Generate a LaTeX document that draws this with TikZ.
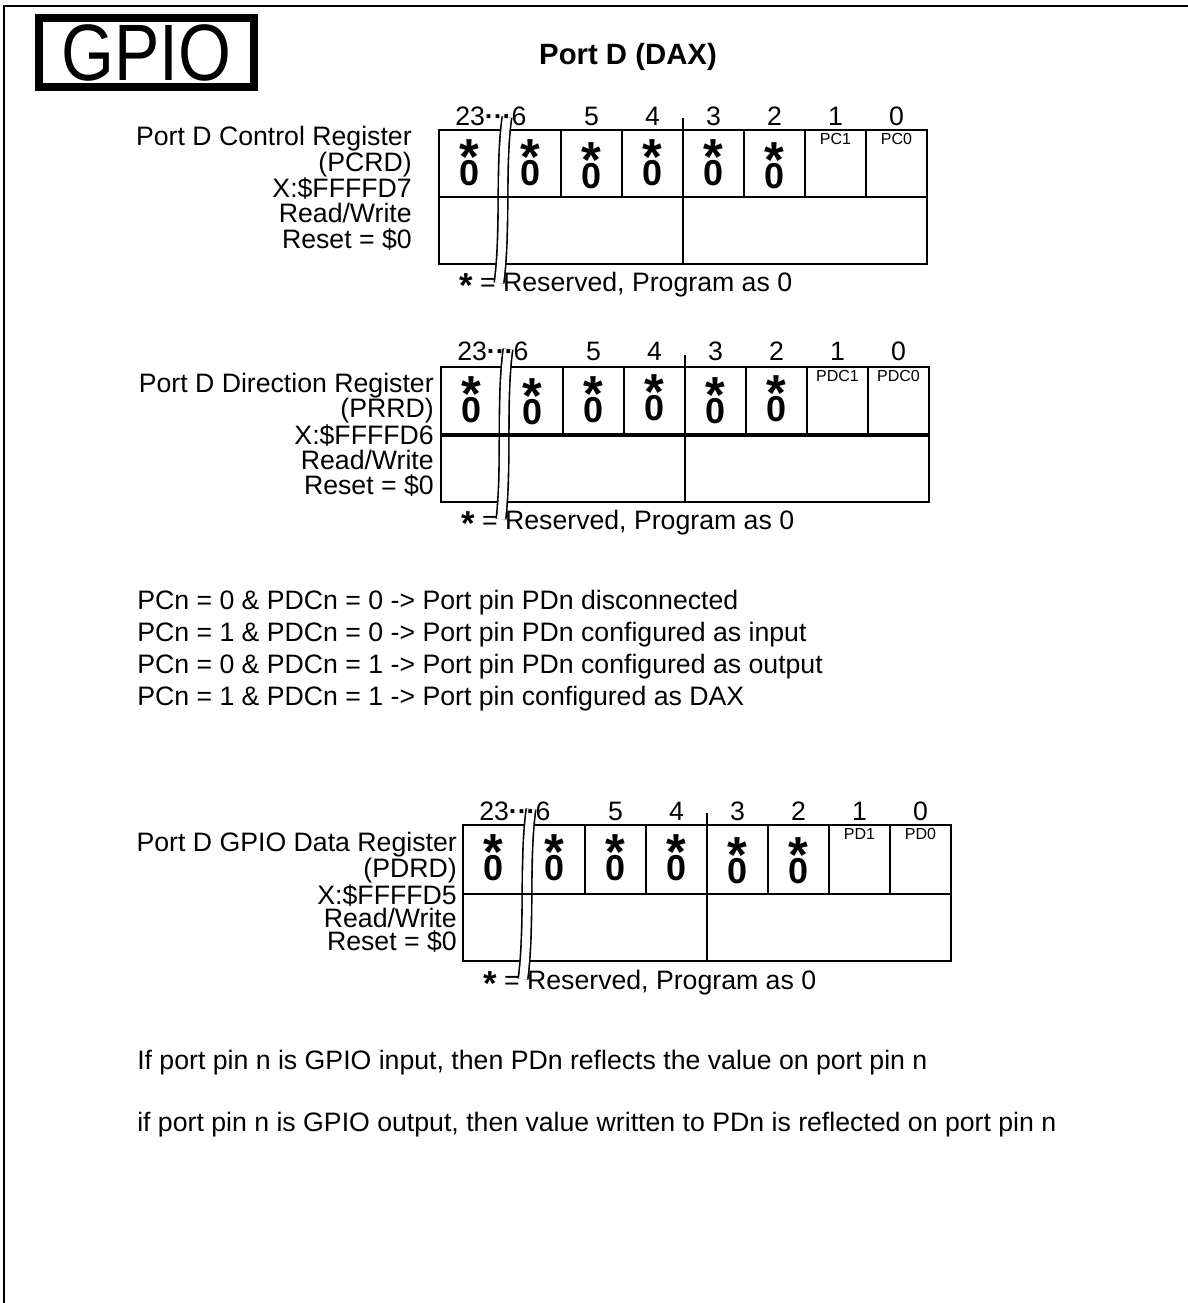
\documentclass[tikz,border=0pt]{standalone}
\usepackage{fontspec}
\setmainfont{Liberation Sans}
\usepackage{graphicx}
\usetikzlibrary{positioning}
\tikzset{
  frame/.style={line width=1.6pt},
  titlebox/.style={draw,line width=6pt,minimum width=161pt,minimum height=52pt,
                   inner sep=0pt,font=\fontsize{60}{60}\selectfont},
  heading/.style={font=\fontsize{22}{26}\selectfont\bfseries,inner sep=0pt},
  regline/.style={line width=1.5pt},
  midthick/.style={line width=3pt},
  brk/.style={line width=1.2pt,double=white,double distance=6pt},
  bitnum/.style={font=\fontsize{20}{24}\selectfont,inner sep=0pt},
  cellv/.style={font=\fontsize{27}{30}\selectfont\bfseries,anchor=base,inner sep=0pt},
  fld/.style={font=\fontsize{12}{14}\selectfont,inner sep=0pt},
  reglbl/.style={font=\fontsize{20}{#1}\selectfont,align=right,anchor=north east,inner sep=0pt},
  resv/.style={font=\fontsize{20}{24}\selectfont,anchor=base west,inner sep=0pt},
  txtline/.style={font=\fontsize{20}{24}\selectfont,anchor=base west,inner sep=0pt},
}
% reserved bit: star over zero
\newcommand{\starzero}{\ooalign{\hfil\raisebox{8.25pt}{\fontsize{38}{38}\selectfont *}\hfil\cr\hfil 0\hfil\cr}}
\newcommand{\resast}{\raisebox{-0.22em}{\fontsize{26}{26}\selectfont\bfseries *}}
\newcommand{\bitdots}{23{\bfseries···}6}
\begin{document}
\begin{tikzpicture}[x=0.75pt,y=-0.75pt]
  \useasboundingbox (0,0) rectangle (1188,1303);

  % page frame
  \draw[frame] (4,1303) -- (4,6) -- (1188,6);

  \node[titlebox] (gpio) at (146.5,52.5) {\scalebox{0.85}[1]{GPIO}};
  \node[heading] (portd) at (628,57) {Port D (DAX)};

  % ---- control register
  \draw[regline] (439,130) rectangle (927,264);
  \foreach \k in {2,3,5,6,7}
    \draw[regline] ({439+61*\k},130) -- ({439+61*\k},197);
  \draw[regline] (683,118) -- (683,264);
  \draw[brk] (507,117) .. controls (500,165) and (506,230) .. (499,283);
  \draw[regline] (439,197) -- (927,197);

  \node[bitnum,anchor=west] (r1b23) at (455,116) {\bitdots};
  \foreach \k/\n in {2/5,3/4,4/3,5/2,6/1,7/0}
    \node[bitnum] (r1b\n) at ({439+61*\k+30.5},116) {\n};
  \foreach \k/\dy in {0/0,1/0,2/3,3/0,4/0,5/3}
    \node[cellv] (r1c\k) at ({439+61*\k+30.5},{185+\dy}) {\starzero};
  \node[fld] (pc1) at (835.5,139) {PC1};
  \node[fld] (pc0) at (896.5,139) {PC0};
  \node[reglbl=19.3] (pcrd) at (412,126) {Port D Control Register\\(PCRD)\\X:\$FFFFD7\\Read/Write\\Reset = \$0};
  \node[resv] (r1res) at (459,291.5) {\resast{} = Reserved, Program as 0};

  % ---- direction register
  \draw[regline] (441,367) rectangle (929,502);
  \foreach \k in {2,3,5,6,7}
    \draw[regline] ({441+61*\k},367) -- ({441+61*\k},435);
  \draw[regline] (685,355) -- (685,502);
  \draw[brk] (508,349) .. controls (501,400) and (507,465) .. (501,519);
  \draw[midthick] (441,435) -- (929,435);

  \node[bitnum,anchor=west] (r2b23) at (457,351) {\bitdots};
  \foreach \k/\n in {2/5,3/4,4/3,5/2,6/1,7/0}
    \node[bitnum] (r2b\n) at ({441+61*\k+30.5},351) {\n};
  \foreach \k/\dy in {0/0,1/2,2/0,3/-2,4/1,5/-1}
    \node[cellv] (r2c\k) at ({441+61*\k+30.5},{422+\dy}) {\starzero};
  \node[fld] (pdc1) at (837.5,376) {PDC1};
  \node[fld] (pdc0) at (898.5,376) {PDC0};
  \node[reglbl=18.75] (prrd) at (434,373) {Port D Direction Register\\(PRRD)\\X:\$FFFFD6\\Read/Write\\Reset = \$0};
  \node[resv] (r2res) at (461,529.5) {\resast{} = Reserved, Program as 0};

  % ---- mode table
  \node[txtline] (mode1) at (137,609.5) {PCn = 0 \& PDCn = 0 -> Port pin PDn disconnected};
  \node[txtline] (mode2) at (137,641.5) {PCn = 1 \& PDCn = 0 -> Port pin PDn configured as input};
  \node[txtline] (mode3) at (137,673.5) {PCn = 0 \& PDCn = 1 -> Port pin PDn configured as output};
  \node[txtline] (mode4) at (137,705.5) {PCn = 1 \& PDCn = 1 -> Port pin configured as DAX};

  % ---- data register
  \draw[regline] (463,825) rectangle (951,961);
  \foreach \k in {2,3,5,6,7}
    \draw[regline] ({463+61*\k},825) -- ({463+61*\k},894);
  \draw[regline] (707,813) -- (707,961);
  \draw[brk] (531,809) .. controls (524,860) and (530,925) .. (523,979);
  \draw[regline] (463,894) -- (951,894);

  \node[bitnum,anchor=west] (r3b23) at (479,811) {\bitdots};
  \foreach \k/\n in {2/5,3/4,4/3,5/2,6/1,7/0}
    \node[bitnum] (r3b\n) at ({463+61*\k+30.5},811) {\n};
  \foreach \k/\dy in {0/0,1/0,2/0,3/0,4/3,5/3}
    \node[cellv] (r3c\k) at ({463+61*\k+30.5},{880+\dy}) {\starzero};
  \node[fld] (pd1) at (859.5,834) {PD1};
  \node[fld] (pd0) at (920.5,834) {PD0};
  \node[reglbl=17.4] (pdrd) at (457,832) {Port D GPIO Data Register\\(PDRD)\\X:\$FFFFD5\\Read/Write\\Reset = \$0};
  \node[resv] (r3res) at (483,989.5) {\resast{} = Reserved, Program as 0};

  % ---- notes
  \node[txtline] (gpin) at (137,1069.5) {If port pin n is GPIO input, then PDn reflects the value on port pin n};
  \node[txtline] (gpout) at (137,1131.5) {if port pin n is GPIO output, then value written to PDn is reflected on port pin n};
\end{tikzpicture}
\end{document}
